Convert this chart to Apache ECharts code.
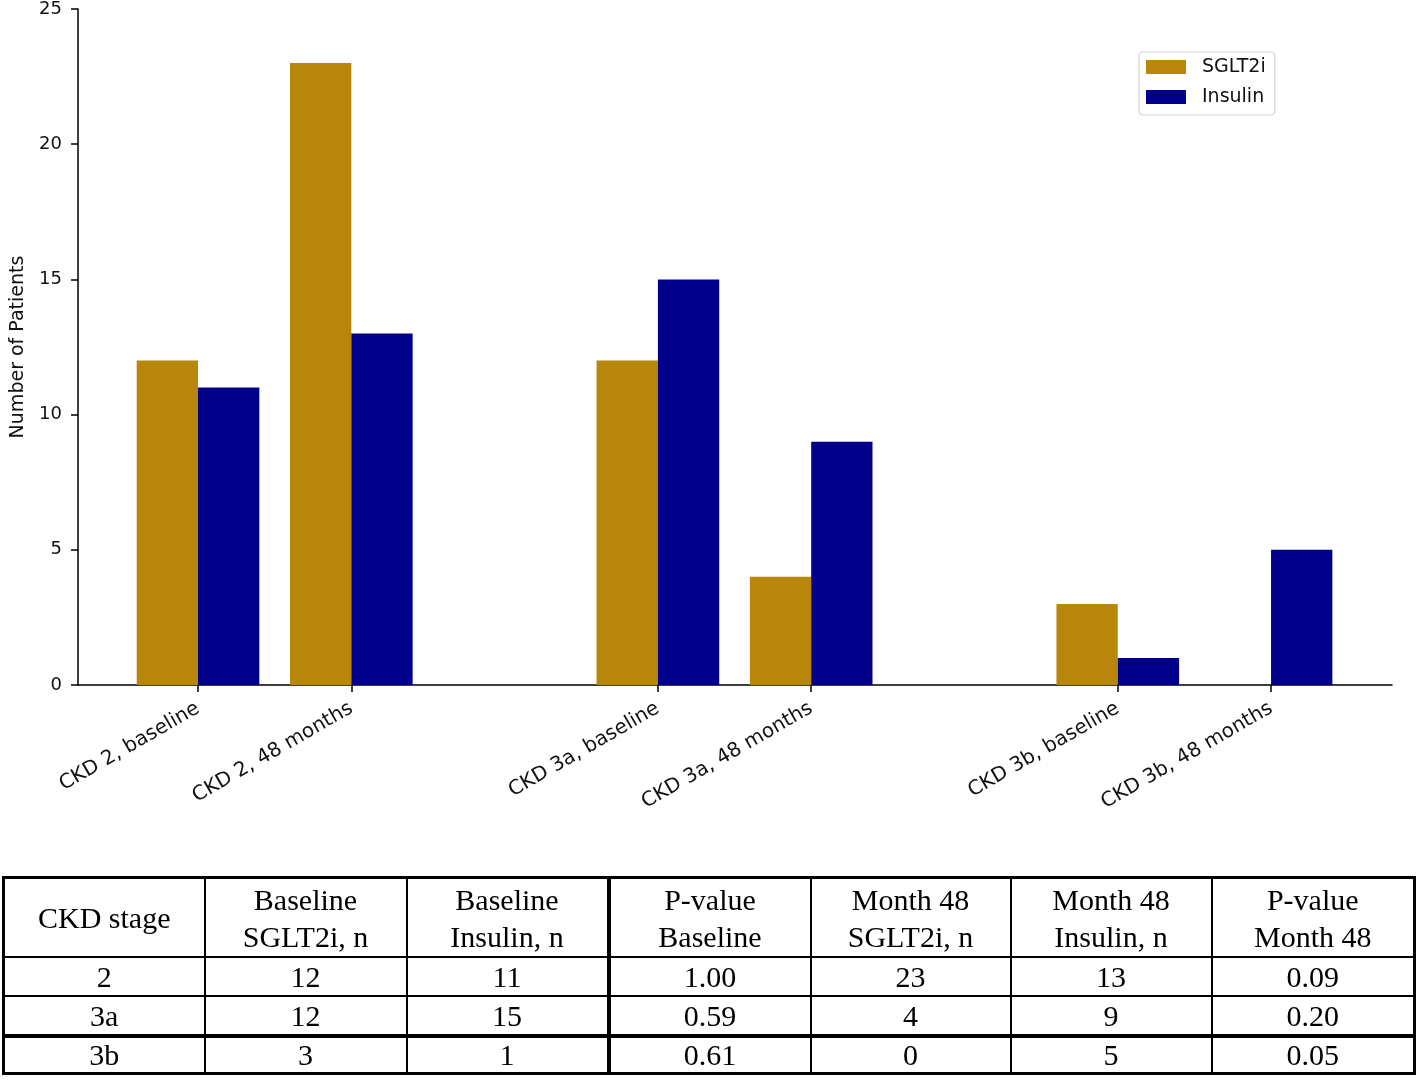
<!DOCTYPE html>
<html>
<head>
<meta charset="utf-8">
<script src="https://cdn.jsdelivr.net/npm/echarts@6/dist/echarts.min.js"></script>
<style>
  html, body { margin: 0; padding: 0; background: #fff; }
  #wrap { position: relative; width: 1417px; height: 1080px; overflow: hidden; }
  #chart { position: absolute; left: 0; top: 0; width: 1417px; height: 1080px; }
  #tbl { position: absolute; left: 2px; top: 876px; width: 1411px; border-collapse: collapse; table-layout: fixed;
         font-family: 'Liberation Serif', 'Times New Roman', serif; font-size: 30px; color: #000; }
  #tbl td { text-align: center; vertical-align: middle; padding: 0; border: 2px solid #000; line-height: 37px; }
  #tbl tr.head td { height: 77px; }
  #tbl tr.row td { height: 37px; line-height: 37px; }
  #tbl tr.row.last td { height: 34px; line-height: 34px; }
</style>
</head>
<body>
<div id="wrap">
  <div id="chart"></div>
  <table id="tbl"></table>
</div>
<script>
// ---- data ----
const categories = ['CKD 2, baseline', 'CKD 2, 48 months', 'CKD 3a, baseline', 'CKD 3a, 48 months', 'CKD 3b, baseline', 'CKD 3b, 48 months'];
const seriesNames = ['SGLT2i', 'Insulin'];
const sglt2iCounts = [12, 23, 12, 4, 3, 0];
const insulinCounts = [11, 13, 15, 9, 1, 5];
const yTicks = [0, 5, 10, 15, 20, 25];

const ckdStages = ['2', '3a', '3b'];
const tableHeaders = ['CKD stage', 'Baseline<br>SGLT2i, n', 'Baseline<br>Insulin, n', 'P-value<br>Baseline', 'Month 48<br>SGLT2i, n', 'Month 48<br>Insulin, n', 'P-value<br>Month 48'];
const pValueBaseline = ['1.00', '0.59', '0.61'];
const pValueMonth48 = ['0.09', '0.20', '0.05'];

// slot index along x: two bars per CKD stage, one empty slot between stages
const slots = categories.map((c, i) => i + Math.floor(i / 2));

const chart = echarts.init(document.getElementById('chart'), null, { renderer: 'canvas' });
const FONT = 'DejaVu Sans';
chart.setOption({
  backgroundColor: '#fff',
  animation: false,
  textStyle: { fontFamily: FONT, color: '#000' },
  grid: { left: 78, right: 25, top: 8, bottom: 395, containLabel: false },
  legend: {
    orient: 'vertical',
    left: 1139, top: 52,
    padding: [5, 9, 8, 7],
    itemWidth: 40, itemHeight: 14, itemGap: 10,
    borderColor: '#d4d4d4', borderWidth: 1.2, borderRadius: 4,
    backgroundColor: '#fff',
    textStyle: { fontFamily: FONT, fontSize: 19, color: '#111', lineHeight: 20, padding: [0, 0, 0, 11] },
    data: seriesNames.map(n => ({ name: n, icon: 'rect' }))
  },
  xAxis: {
    type: 'value',
    min: -0.783, max: 7.789,
    axisLine: { show: true, onZero: false, lineStyle: { color: '#000', width: 1.5 } },
    axisTick: { show: true, length: 7, lineStyle: { color: '#000', width: 1.5 }, customValues: slots },
    axisLabel: {
      customValues: slots,
      rotate: 30, margin: 22,
      fontFamily: FONT, fontSize: 20, color: '#111',
      formatter: v => { const i = slots.indexOf(Math.round(v)); return i >= 0 ? categories[i] : ''; }
    },
    splitLine: { show: false }
  },
  yAxis: {
    type: 'value',
    min: 0, max: 25, interval: 5,
    name: 'Number of Patients',
    nameLocation: 'middle', nameGap: 50,
    nameTextStyle: { fontFamily: FONT, fontSize: 19, color: '#111' },
    axisLine: { show: true, onZero: false, lineStyle: { color: '#000', width: 1.5 } },
    axisTick: { show: true, length: 7, lineStyle: { color: '#000', width: 1.5 } },
    axisLabel: { fontFamily: FONT, fontSize: 18, color: '#111', margin: 16,
      formatter: v => yTicks.includes(v) ? String(v) : '' },
    splitLine: { show: false }
  },
  series: [
    { name: seriesNames[0], type: 'bar', barWidth: '40%', barGap: '0%',
      itemStyle: { color: '#B8860B' },
      data: sglt2iCounts.map((v, i) => [slots[i], v]) },
    { name: seriesNames[1], type: 'bar', barWidth: '40%', barGap: '0%',
      itemStyle: { color: '#00008B' },
      data: insulinCounts.map((v, i) => [slots[i], v]) }
  ]
});

// ---- table ----
const baseS = [sglt2iCounts[0], sglt2iCounts[2], sglt2iCounts[4]];
const baseI = [insulinCounts[0], insulinCounts[2], insulinCounts[4]];
const m48S = [sglt2iCounts[1], sglt2iCounts[3], sglt2iCounts[5]];
const m48I = [insulinCounts[1], insulinCounts[3], insulinCounts[5]];
const tbl = document.getElementById('tbl');
const colW = [201, 202, 202, 202, 200, 201, 203];
let html = '<colgroup>' + colW.map(w => `<col style="width:${w}px">`).join('') + '</colgroup>';
html += '<tr class="head">' + tableHeaders.map(h => `<td>${h}</td>`).join('') + '</tr>';
ckdStages.forEach((s, r) => {
  const cells = [s, baseS[r], baseI[r], pValueBaseline[r], m48S[r], m48I[r], pValueMonth48[r]];
  const cls = r === ckdStages.length - 1 ? 'row last' : 'row';
  html += `<tr class="${cls}">` + cells.map(c => `<td>${c}</td>`).join('') + '</tr>';
});
tbl.innerHTML = html;
// heavier rules as in the reference
tbl.style.border = '3px solid #000';
Array.from(tbl.rows).forEach(tr => { tr.cells[3].style.borderLeft = '4px solid #000'; });
Array.from(tbl.rows[3].cells).forEach(td => { td.style.borderTop = '4px solid #000'; });
Array.from(tbl.rows[0].cells).forEach(td => { td.style.borderTop = '3px solid #000'; });
</script>
</body>
</html>
